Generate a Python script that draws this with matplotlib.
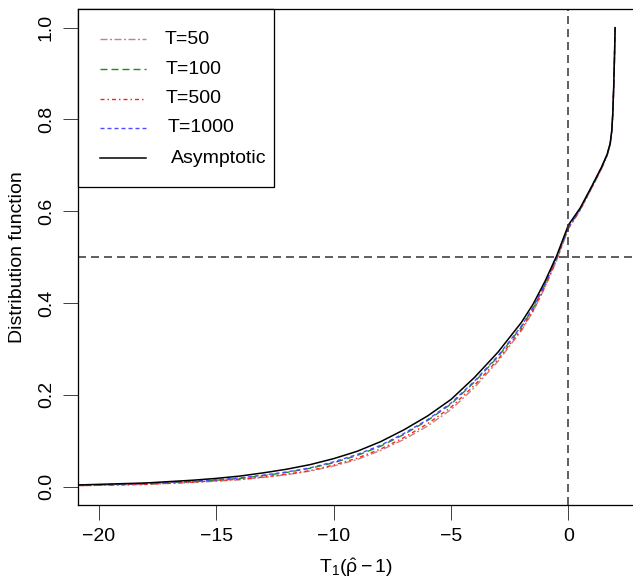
import matplotlib
matplotlib.use("Agg")
import matplotlib.pyplot as plt
from matplotlib.patches import Rectangle
from matplotlib.lines import Line2D

plt.rcParams['font.family'] = ['Liberation Sans', 'DejaVu Sans']
plt.rcParams['mathtext.fontset'] = 'custom'
plt.rcParams['mathtext.rm'] = 'Liberation Sans'
plt.rcParams['mathtext.it'] = 'Liberation Sans'
plt.rcParams['mathtext.bf'] = 'Liberation Sans:bold'
plt.rcParams['lines.scale_dashes'] = False

# Evaluation grid of the distribution functions
x_grid = [-22, -20, -18, -16, -15, -14, -13, -12, -11, -10, -9, -8, -7, -6, -5,
          -4, -3, -2, -1.5, -1, -0.5, 0, 0.5, 1.0, 1.4, 1.65, 1.78, 1.85, 1.89,
          1.93, 1.96, 1.99]

cdf_t50 = [0.001, 0.003, 0.005, 0.009, 0.012, 0.015, 0.020, 0.026, 0.034, 0.045,
           0.059, 0.079, 0.103, 0.132, 0.168, 0.216, 0.273, 0.340, 0.382, 0.434,
           0.493, 0.562, 0.602, 0.651, 0.691, 0.721, 0.745, 0.775, 0.811, 0.869,
           0.927, 1.000]
cdf_t100 = [0.002, 0.004, 0.006, 0.011, 0.014, 0.018, 0.024, 0.031, 0.040, 0.052,
            0.068, 0.088, 0.114, 0.144, 0.180, 0.228, 0.283, 0.348, 0.389, 0.440,
            0.498, 0.565, 0.604, 0.653, 0.693, 0.723, 0.747, 0.776, 0.812, 0.870,
            0.928, 1.000]
cdf_t500 = [0.001, 0.003, 0.005, 0.010, 0.013, 0.016, 0.021, 0.027, 0.035, 0.047,
            0.062, 0.082, 0.107, 0.137, 0.173, 0.221, 0.277, 0.343, 0.384, 0.436,
            0.495, 0.563, 0.603, 0.652, 0.692, 0.722, 0.746, 0.775, 0.811, 0.870,
            0.928, 1.000]
cdf_t1000 = [0.002, 0.004, 0.007, 0.012, 0.015, 0.019, 0.025, 0.032, 0.041, 0.054,
             0.070, 0.090, 0.116, 0.146, 0.182, 0.230, 0.285, 0.350, 0.391, 0.441,
             0.499, 0.566, 0.605, 0.654, 0.694, 0.723, 0.747, 0.776, 0.812, 0.870,
             0.928, 1.000]
cdf_asym = [0.002, 0.005, 0.008, 0.014, 0.018, 0.023, 0.030, 0.038, 0.048, 0.061,
            0.077, 0.098, 0.124, 0.154, 0.190, 0.238, 0.293, 0.358, 0.398, 0.447,
            0.503, 0.570, 0.607, 0.655, 0.695, 0.724, 0.748, 0.777, 0.813, 0.871,
            0.929, 1.000]

labels = ['T=50', 'T=100', 'T=500', 'T=1000', 'Asymptotic']
x_ticks = [-20, -15, -10, -5, 0]
y_ticks = [0.0, 0.2, 0.4, 0.6, 0.8, 1.0]

W, H = 633, 581
DPI = 100
PT = 72.0 / DPI  # points per pixel

styles = [
    dict(color='#BF8585', lw=1.0, dashes=(7 * PT, 2.5 * PT, 2 * PT, 2.5 * PT)),
    dict(color='#1E8B1E', lw=1.0, dashes=(7 * PT, 4 * PT)),
    dict(color='#FF2020', lw=1.0, dashes=(4 * PT, 3 * PT, 1.5 * PT, 3 * PT)),
    dict(color='#4D4DFF', lw=1.0, dashes=(4 * PT, 3 * PT)),
    dict(color='black', lw=1.1, dashes=None),
]
series = [cdf_t50, cdf_t100, cdf_t500, cdf_t1000, cdf_asym]

fig = plt.figure(figsize=(W / DPI, H / DPI), dpi=DPI)
left, right, top, bottom = 78.3, 636.0, 9.3, 505.0
ax = fig.add_axes([left / W, 1 - bottom / H, (right - left) / W, (bottom - top) / H])

ax.set_xlim(-20.88, 2.88)
ax.set_ylim(-0.04, 1.04)

for ys, st in zip(series, styles):
    if st['dashes'] is None:
        ax.plot(x_grid, ys, color=st['color'], lw=st['lw'], solid_joinstyle='round')
    else:
        ax.plot(x_grid, ys, color=st['color'], lw=st['lw'], dashes=st['dashes'])

ref_dash = (8 * PT, 5 * PT)
ax.axhline(0.5, color='#333333', lw=1.1, dashes=ref_dash)
ax.axvline(0.0, color='#333333', lw=1.1, dashes=ref_dash)

ax.set_xticks(x_ticks)
ax.set_yticks(y_ticks)
ax.tick_params(axis='both', direction='out', length=15 * PT, width=1.0 * PT,
               color='#444444', labelsize=14, pad=6)
ax.set_xticklabels(['\u2212' + str(abs(v)) if v < 0 else str(v) for v in x_ticks])
ax.set_yticklabels([f'{v:.1f}' for v in y_ticks])
plt.setp(ax.get_yticklabels(), rotation=90, va='center')
for sp in ax.spines.values():
    sp.set_linewidth(1.0 * PT * 1.3)
    sp.set_color('black')
ax.spines['right'].set_visible(False)


def fxy(px, py):
    return px / W, 1 - py / H


fig.text(*fxy(18, 257), 'Distribution function', rotation=90,
         ha='center', va='center', fontsize=14)
fig.text(*fxy(356, 568), r'$\mathrm{T_1(\hat{\rho} - 1)}$',
         ha='center', va='center', fontsize=14)

# Legend box in the top-left corner
lx0, ly0, lx1, ly1 = 78.3, 9.3, 274.0, 187.3
fx0, fy1 = fxy(lx0, ly0)
fx1, fy0 = fxy(lx1, ly1)
fig.patches.append(Rectangle((fx0, fy0), fx1 - fx0, fy1 - fy0,
                             transform=fig.transFigure, facecolor='white',
                             edgecolor='black', lw=1.0 * PT * 1.3, zorder=5))
row_y = [39, 69, 98.7, 128, 158]
text_x = [164.3, 165.7, 166, 167.3, 171]
for lab, st, ry, tx in zip(labels, styles, row_y, text_x):
    (a0, b0), (a1, _) = fxy(100, ry), fxy(146, ry)
    ln = Line2D([a0, a1], [b0, b0], transform=fig.transFigure,
                color=st['color'], lw=st['lw'], zorder=6)
    if st['dashes'] is not None:
        ln.set_dashes(st['dashes'])
    fig.lines.append(ln)
    fig.text(*fxy(tx, ry), lab, ha='left', va='center', fontsize=14, zorder=7)

fig.savefig('out.png', dpi=DPI)
